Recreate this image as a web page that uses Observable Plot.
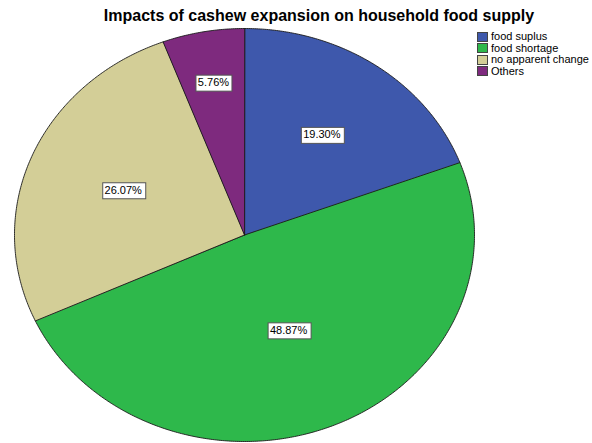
<!DOCTYPE html>
<html><head><meta charset="utf-8">
<script src="https://cdn.jsdelivr.net/npm/d3@7"></script>
<script src="https://cdn.jsdelivr.net/npm/@observablehq/plot@0.6"></script>
<style>
body{margin:0;background:#fff;font-family:"Liberation Sans",Arial,sans-serif;}
#wrap{position:relative;width:592px;height:443px;overflow:hidden;}
#title{position:absolute;left:319px;top:7px;transform:translateX(-50%);white-space:nowrap;font-weight:bold;font-size:16px;line-height:18px;color:#000;}
#legend{position:absolute;left:477px;top:31px;font-size:11px;line-height:11.5px;color:#000;}
.row{display:flex;align-items:center;height:11.5px;white-space:nowrap;}
.sw{width:9px;height:8px;border:1px solid #444;margin-right:3px;}
svg{position:absolute;left:0;top:0;}
</style>
</head><body>
<div id="wrap">
<div id="title"></div>
<div id="legend"></div>
</div>
<script>
const titleText = "Impacts of cashew expansion on household food supply";
const categories = ["food suplus", "food shortage", "no apparent change", "Others"];
const percents = [19.30, 48.87, 26.07, 5.76];
const labels = ["19.30%", "48.87%", "26.07%", "5.76%"];
const colors = ["#3E58AC", "#2EB84B", "#D3CE97", "#7E2A7E"];
// layout: relative radius of each label inside its slice
const labelRadius = [0.59, 0.5, 0.57, 0.75];

document.getElementById("title").textContent = titleText;
const legend = document.getElementById("legend");
categories.forEach((c, i) => {
  const r = document.createElement("div"); r.className = "row";
  const s = document.createElement("div"); s.className = "sw"; s.style.background = colors[i];
  const t = document.createElement("span"); t.textContent = c;
  r.appendChild(s); r.appendChild(t); legend.appendChild(r);
});

const arcs = d3.pie().sort(null).value(d => d)(percents);
const slices = arcs.map((a, i) => {
  const pts = [{x: 0, y: 0}];
  const n = Math.max(2, Math.ceil((a.endAngle - a.startAngle) / (Math.PI / 360)));
  for (let k = 0; k <= n; k++) {
    const t = a.startAngle + (a.endAngle - a.startAngle) * k / n;
    pts.push({x: Math.sin(t), y: Math.cos(t)});
  }
  return pts;
});
const labelPts = arcs.map((a, i) => {
  const m = (a.startAngle + a.endAngle) / 2;
  return {x: labelRadius[i] * Math.sin(m), y: labelRadius[i] * Math.cos(m), text: labels[i]};
});

const marks = slices.map((pts, i) => Plot.line(pts, {
  x: "x", y: "y", curve: "linear-closed", fill: colors[i], stroke: "#1a1a1a", strokeWidth: 0.9, strokeLinejoin: "round"
}));
marks.push(Plot.text(labelPts, {
  x: "x", y: "y", text: "text", fontSize: 11, fill: "#000", className: "pielabel",
  fontFamily: "Liberation Sans, Arial, sans-serif"
}));

const chart = Plot.plot({
  width: 592, height: 443,
  marginLeft: 14, marginRight: 118, marginTop: 28, marginBottom: 2,
  x: {domain: [-1, 1], axis: null},
  y: {domain: [-1, 1], axis: null},
  style: {background: "transparent", fontFamily: "Liberation Sans, Arial, sans-serif"},
  marks
});
document.getElementById("wrap").insertBefore(chart, document.getElementById("title"));

// boxes behind the percentage labels
chart.querySelectorAll("g.pielabel text").forEach(t => {
  const b = t.getBBox();
  const r = document.createElementNS("http://www.w3.org/2000/svg", "rect");
  const tr = t.getAttribute("transform");
  if (tr) r.setAttribute("transform", tr);
  r.setAttribute("x", Math.round(b.x - 2.5) + 0.5);
  r.setAttribute("y", Math.round(b.y + b.height / 2 - 8) + 0.5);
  r.setAttribute("width", Math.round(b.width + 5));
  r.setAttribute("height", 16);
  r.setAttribute("fill", "#fff");
  r.setAttribute("stroke", "#555");
  r.setAttribute("stroke-width", 1);
  t.parentNode.insertBefore(r, t);
});
</script>
</body></html>
